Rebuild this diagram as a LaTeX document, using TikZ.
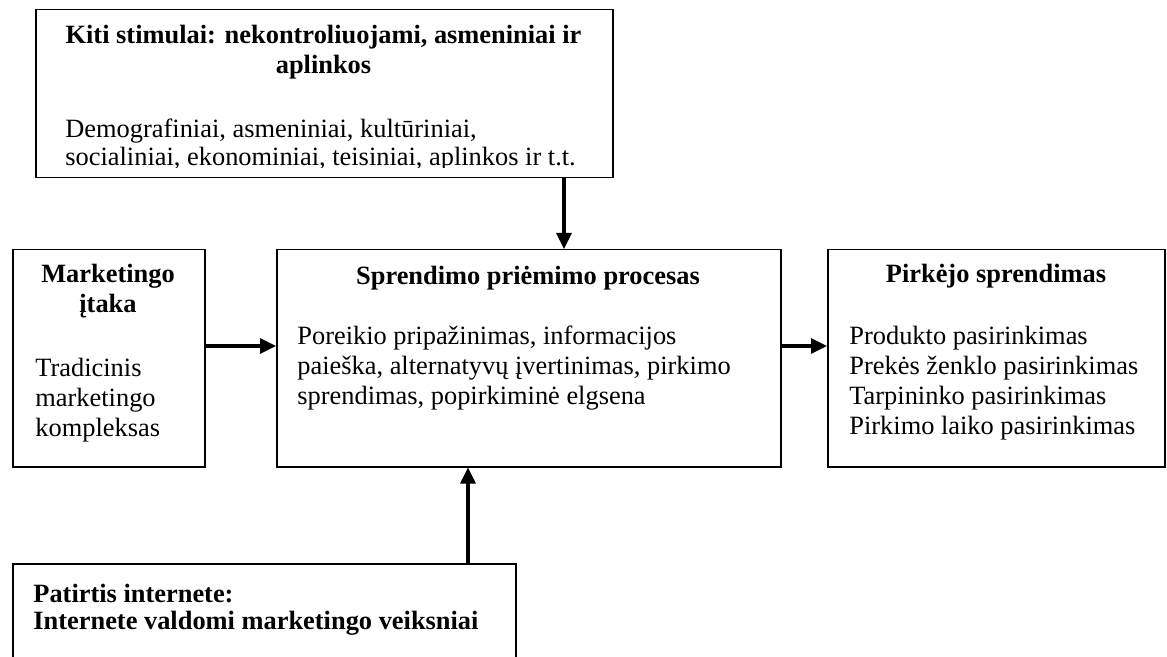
\documentclass[tikz,border=0pt]{standalone}
\usepackage{fontspec}
\setmainfont{Liberation Serif}
\usetikzlibrary{arrows.meta, positioning, calc}

\begin{document}
\begin{tikzpicture}[x=0.5pt, y=-0.5pt,
      box/.style={draw, line width=0.75pt, inner sep=0pt, anchor=north west},
      ttl/.style={font=\fontsize{13.2}{15}\selectfont\bfseries, inner sep=0pt,
                  align=center, anchor=base},
      txt/.style={font=\fontsize{13.2}{15}\selectfont, inner sep=0pt,
                  align=left, anchor=base west},
      arrow/.style={-{Triangle[length=8pt,width=7.5pt]}, line width=1.6pt}]

    \useasboundingbox (0,0) rectangle (1167,657);

    % boxes
    \node[box, minimum width=288.5pt, minimum height=84pt]  (kiti)       at (35,9)    {};
    \node[box, minimum width=96pt,    minimum height=108.5pt] (itaka)    at (12,249)  {};
    \node[box, minimum width=252pt,   minimum height=108.5pt] (procesas) at (276,249) {};
    \node[box, minimum width=168.5pt, minimum height=108.5pt] (sprendimas) at (827,249) {};
    \node[box, minimum width=251.5pt, minimum height=60pt]  (patirtis)   at (12,563)  {};

    % texts (base anchor = last line)
    \node[ttl] (kitittl) at (323.5,74)
          {Kiti stimulai: nekontroliuojami, asmeniniai ir\\aplinkos};
    \begin{scope}
      \clip (kiti.north west) rectangle ($(kiti.south east)+(0,-11)$);
      \node[txt, font=\fontsize{13.2}{14}\selectfont] (kititxt) at (65,166)
            {Demografiniai, asmeniniai, kultūriniai,\\socialiniai, ekonominiai, teisiniai, aplinkos ir t.t.};
    \end{scope}

    \node[ttl] (itakattl) at (108,313) {Marketingo\\įtaka};
    \node[txt] (itakatxt) at (35,437)  {Tradicinis\\marketingo\\kompleksas};

    \node[ttl] (procttl) at (528,285) {Sprendimo priėmimo procesas};
    \node[txt] (proctxt) at (297,405)
          {Poreikio pripažinimas, informacijos\\paieška, alternatyvų įvertinimas, pirkimo\\sprendimas, popirkiminė elgsena};

    \node[ttl] (sprttl) at (996,283) {Pirkėjo sprendimas};
    \node[txt] (sprtxt) at (849,435)
          {Produkto pasirinkimas\\Prekės ženklo pasirinkimas\\Tarpininko pasirinkimas\\Pirkimo laiko pasirinkimas};

    \node[ttl, align=left, anchor=base west, font=\fontsize{13.2}{13.5}\selectfont\bfseries]
          (pattxt) at (33,629) {Patirtis internete:\\Internete valdomi marketingo veiksniai};

    % connectors
    \coordinate (xtop) at (564,0);
    \coordinate (xbot) at (468,0);
    \coordinate (ymid) at (0,346);
    \draw[arrow] (xtop |- kiti.south)     -- (xtop |- procesas.north);
    \draw[arrow] (itaka.east |- ymid)     -- (procesas.west |- ymid);
    \draw[arrow] (procesas.east |- ymid)  -- (sprendimas.west |- ymid);
    \draw[arrow] (xbot |- patirtis.north) -- (xbot |- procesas.south);
\end{tikzpicture}
\end{document}
